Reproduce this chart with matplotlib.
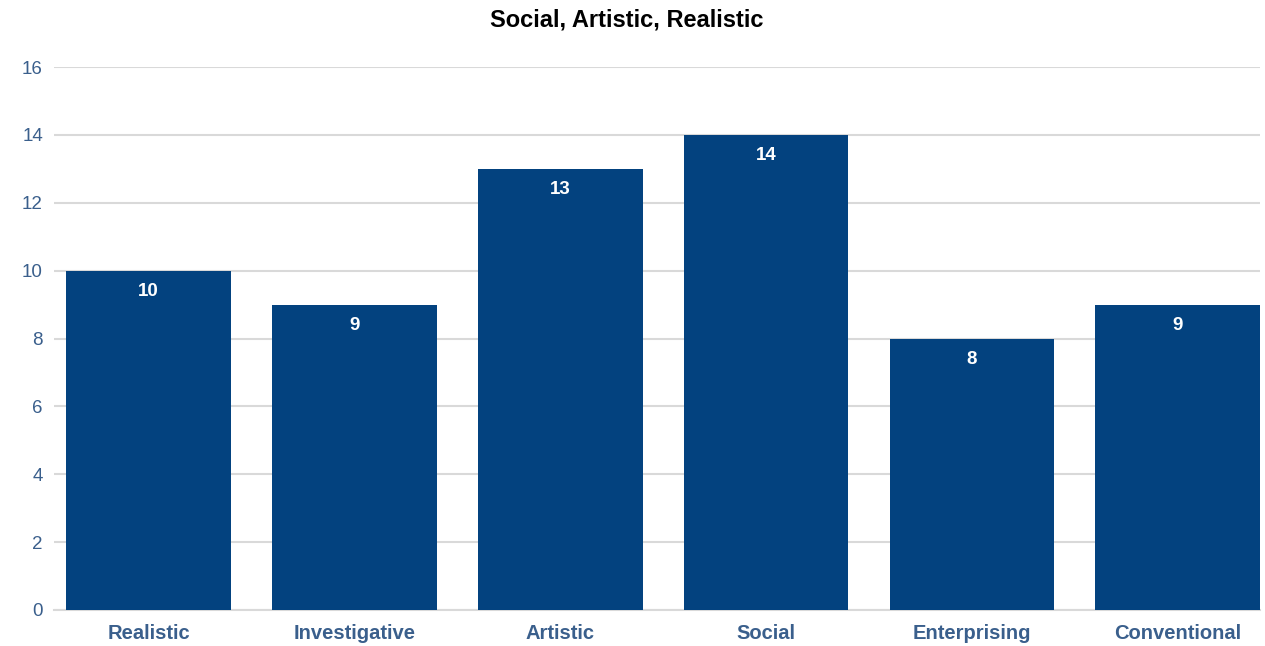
import matplotlib
matplotlib.use("Agg")
import matplotlib.pyplot as plt

categories = ["Realistic", "Investigative", "Artistic", "Social", "Enterprising", "Conventional"]
values = [10, 9, 13, 14, 8, 9]
yticks = [0, 2, 4, 6, 8, 10, 12, 14, 16]
title = "Social, Artistic, Realistic"

plt.rcParams['font.family'] = ['Liberation Sans', 'DejaVu Sans']

fig = plt.figure(figsize=(12.65, 6.46), dpi=100)
ax = fig.add_axes([54/1265, 1-610/646, (1260-54)/1265, (610-67)/646])

bar_color = "#03427F"
x = list(range(len(categories)))
bars = ax.bar(x, values, width=0.8, color=bar_color, zorder=3)

for xi, v in zip(x, values):
    ax.annotate(str(v), (xi, v), xytext=(0, -9), textcoords="offset points",
                ha="center", va="top", color="white", fontsize=13.5, fontweight="bold", zorder=4)

ax.set_xlim(-0.46, 5.4)
ax.set_ylim(0, 16)
ax.set_yticks(yticks)
ax.set_xticks(x)
ax.set_xticklabels(categories, fontsize=14.5, fontweight="bold", color="#3A5F8C")
ax.tick_params(axis="x", length=0, pad=10)
ax.tick_params(axis="y", length=0, pad=8, labelsize=13.5, labelcolor="#3A5F8C")

ax.grid(axis="y", color="#D9D9D9", linewidth=1.5, zorder=0)
for s in ["top", "right", "left"]:
    ax.spines[s].set_visible(False)
ax.spines["bottom"].set_color("#D9D9D9")
ax.spines["bottom"].set_linewidth(1.5)

fig.text(627/1265, 1-20/646, title, ha="center", va="center", fontsize=17, fontweight="bold", color="black")

fig.savefig("out.png", dpi=100)
